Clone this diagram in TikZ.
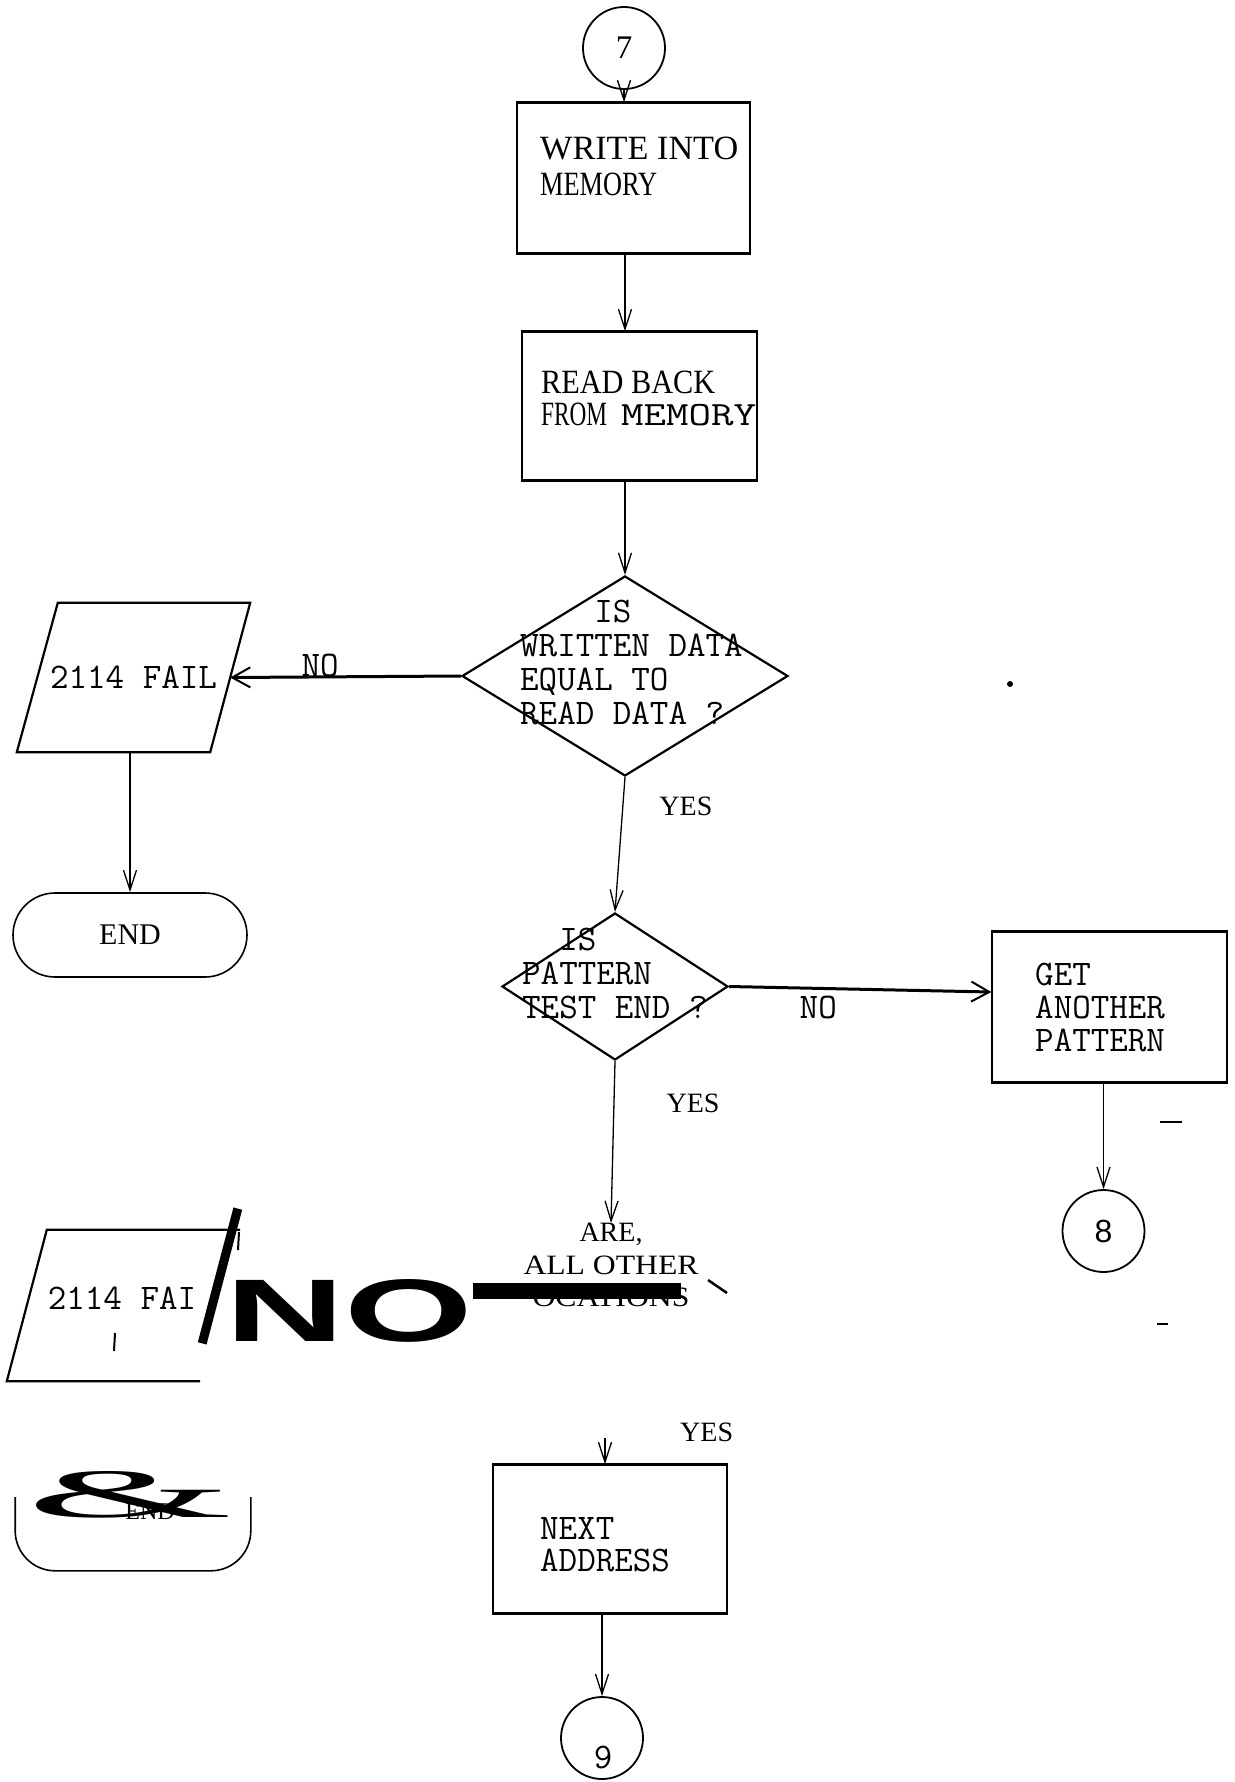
\documentclass[tikz,border=0pt]{standalone}
\usepackage{fontspec}
\setmainfont{Liberation Serif}
\setsansfont{Liberation Sans}
\usepackage{graphicx}
\usetikzlibrary{arrows.meta,positioning,calc,shapes.geometric}

% squeeze a word to the typewriter pitch of the scan
\newcommand{\ocr}[2]{\resizebox{#1pt}{\height}{#2}}

\tikzset{
  procbox/.style={draw, line width=1.4pt, inner sep=0pt},
  conn/.style={draw, circle, line width=1.8pt, minimum size=82pt, inner sep=0pt},
  decide/.style={draw, diamond, line width=2.2pt, inner sep=0pt},
  iobox/.style={line width=2.2pt},
  term/.style={rounded corners=42pt, line width=1.6pt, minimum width=234pt,
    minimum height=84pt, inner sep=0pt},
  mono/.style={font=\fontsize{36}{34}\selectfont\ttfamily, inner sep=0pt},
  serif/.style={font=\fontsize{34}{36}\selectfont, inner sep=0pt},
  lbl/.style={font=\fontsize{28}{30}\selectfont, inner sep=0pt},
  arr/.style={line width=1.3pt, -{Straight Barb[length=20pt,width=13pt,line width=1.3pt]}},
  noarr/.style={line width=3pt, -{Straight Barb[length=18pt,width=20pt,line width=2pt]}},
}

\begin{document}
\begin{tikzpicture}[x=1pt,y=-1pt]
    \useasboundingbox (0,0) rectangle (1234,1782);

    % Connector 7
    \node[conn, font=\fontsize{33}{33}\selectfont] (c7) at (624,48) {7};

    % Write into memory
    \node[procbox, minimum width=233pt, minimum height=150pt] (wr) at (633.5,178) {};
    \node[serif, anchor=north west, align=left] (wrtxt) at (540,137) {\ocr{198}{WRITE INTO}\\\ocr{117}{MEMORY}};

    % Read back
    \node[procbox, minimum width=235pt, minimum height=148pt] (rd) at (639.5,406) {};
    \node[serif, font=\fontsize{34}{32}\selectfont, anchor=north west, align=left] (rdtxt) at (541,371)
      {\ocr{174}{READ BACK}\\\ocr{66}{FROM}\hspace{14pt}\ocr{135}{\ttfamily MEMORY}};

    % Decision 1
    \node[decide, minimum width=326pt, minimum height=200pt] (dm1) at (625,676) {};
    \node[mono, anchor=north west, align=left] (dm1txt) at (520,600)
      {\hphantom{WRIT}IS\\WRITTEN DATA\\EQUAL TO\\READ DATA ?};

    % Fail 1 and end
    \node[mono, minimum width=233pt, minimum height=149pt] (f1) at (133.5,677.5) {2114 FAIL};
    \draw[iobox] ([xshift=41pt]f1.north west) -- (f1.north east) -- ([xshift=-40pt]f1.south east)
      -- (f1.south west) -- cycle;
    \node[term, draw, font=\fontsize{30}{30}\selectfont] (en1) at (130,935) {END};

    % Decision 2
    \node[decide, minimum width=226pt, minimum height=147pt] (dm2) at (615,986.5) {};
    \node[mono, anchor=north west, align=left] (dm2txt) at (522,928)
      {\hphantom{PA}IS\\PATTERN\\TEST END ?};

    % Get another pattern
    \node[procbox, minimum width=235pt, minimum height=150pt] (gp) at (1109.5,1007) {};
    \node[mono, font=\fontsize{36}{33}\selectfont\ttfamily, anchor=north west, align=left] (gptxt) at (1035,963)
      {GET\\ANOTHER\\PATTERN};

    % Connector 8
    \node[conn, font=\fontsize{32}{32}\selectfont\sffamily] (c8) at (1103.5,1231) {8};

    % Decision 3 (outline lost in the scan)
    \node[inner sep=0pt, align=center, font=\fontsize{28}{32.5}\selectfont, anchor=north] (dm3) at (611,1223)
      {ARE,\\\ocr{175}{ALL OTHER}\\\ocr{157}{OCATIONS}};
    \coordinate (dm3w) at (681,1291);
    \coordinate (dm3s) at (605,1438);

    % Fail 2
    \node[minimum width=225pt, minimum height=151pt, inner sep=0pt] (f2) at (119.5,1305.5) {};
    \node[mono] (f2txt) at (122,1298) {2114 FAI};
    \node[inner sep=0pt, font=\sffamily\bfseries] (bigno) at (349,1311) {\resizebox{248pt}{62pt}{NO}};

    % End 2
    \node[term] (en2) at (133,1528) {};
    \node[inner sep=0pt, font=\fontsize{24}{24}\selectfont] (en2txt) at (150,1512) {END};
    \node[inner sep=0pt] (amp) at (130,1495) {\resizebox{206pt}{46pt}{\&}};

    % Next address
    \node[procbox, minimum width=234pt, minimum height=148pt] (nx) at (610,1539) {};
    \node[mono, font=\fontsize{36}{32}\selectfont\ttfamily, anchor=north west, align=left] (nxtxt) at (540,1517)
      {NEXT\\ADDRESS};
    \node[lbl, anchor=west] (yes3) at (680,1432) {YES};

    % Connector 9
    \node[conn] (c9) at (602,1738) {};
    \node[mono] (c9txt) at (603,1757) {9};

    % heavier top and bottom edges of the boxes
    \foreach \b in {wr,rd,gp,nx} {
      \draw[line width=3pt] (\b.north west) -- (\b.north east);
      \draw[line width=3pt] (\b.south west) -- (\b.south east);
    }

    % Connectors
    \draw[arr] (c7.south) -- (c7.south |- wr.north);
    \draw[arr] (wr.south -| dm1.north) -- (rd.north -| dm1.north);
    \draw[arr] (rd.south -| dm1.north) -- (dm1.north);
    \draw[noarr] (dm1.west) -- node[mono, pos=0.61, anchor=base] (no1) {NO} ([xshift=-20pt]f1.east);
    \draw[arr] (f1.south -| en1.north) -- (en1.north);
    \draw[arr] (dm1.south) -- node[lbl, pos=0.22, right=36pt] (yes1) {YES} (dm2.north);
    \draw[noarr] (dm2.east) -- node[mono, pos=0.34, below=6pt] (no2) {NO} ([yshift=15pt]gp.west);
    \draw[arr] (gp.south -| c8.north) -- (c8.north);
    \draw[arr] (dm2.south) -- node[lbl, pos=0.26, right=52pt] (yes2) {YES} (dm3.north);
    \draw[arr] (dm3s) -- (dm3s |- nx.north);
    \draw[arr] (nx.south -| c9.north) -- (c9.north);

    % NO branch of decision 3, as the scan prints it
    \draw[line width=16pt] (bigno.east |- dm3w) -- (dm3w);
    \draw[line width=2.5pt] (708,1280) -- (727,1293);

    % Fail 2 outline
    \draw[iobox] ([xshift=-32pt]f2.south east) -- (f2.south west)
      -- ([xshift=40pt]f2.north west) -- ([xshift=8pt]f2.north east);
    \draw[line width=9pt] ($(f2.north east)!-0.14!([xshift=-40pt]f2.south east)$)
      -- ($(f2.north east)!0.75!([xshift=-40pt]f2.south east)$);
    \draw[line width=2pt] (239,1232) -- (238,1250);
    \draw[line width=2pt] (115,1333) -- (114,1351);

    % End 2 outline
    \draw[line width=1.6pt, rounded corners=40pt] ([yshift=-12pt]en2.north west) |- (en2.south)
      -| ([yshift=-12pt]en2.north east);

    % specks
    \fill (1010,684) circle (3pt);
    \draw[line width=2pt] (1160,1122) -- (1182,1122);
    \draw[line width=1.5pt] (1157,1324) -- (1168,1324);
\end{tikzpicture}
\end{document}
